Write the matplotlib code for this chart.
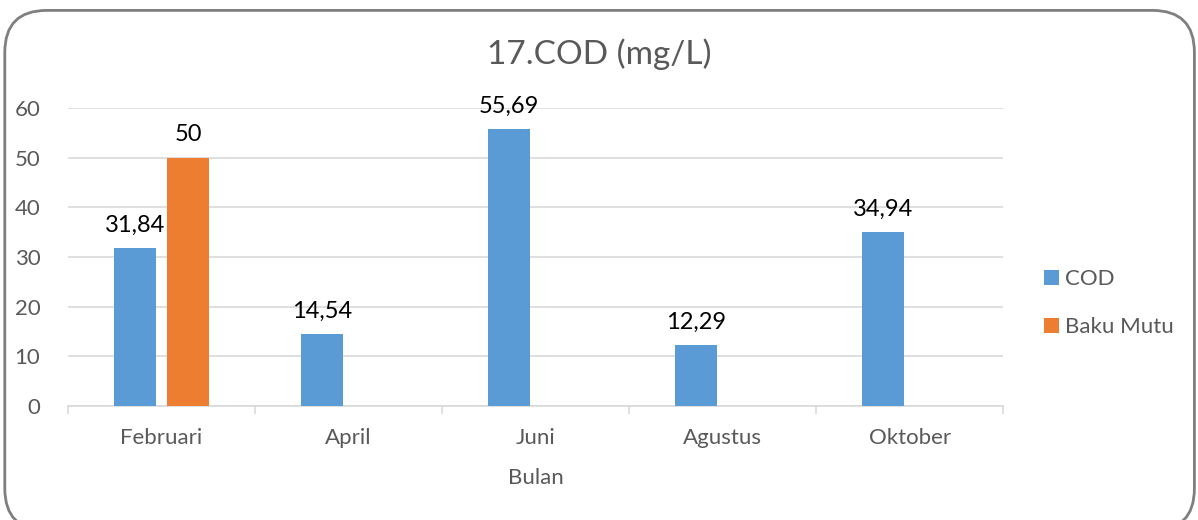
import numpy as np
from matplotlib import pyplot as plt
from matplotlib.patches import FancyBboxPatch
plt.rcParams['font.family'] = ['Lato', 'DejaVu Sans']

bulan = ['Februari', 'April', 'Juni', 'Agustus', 'Oktober']
cod = [31.84, 14.54, 55.69, 12.29, 34.94]
baku_mutu = [50, np.nan, np.nan, np.nan, np.nan]
cod_label = ['31,84', '14,54', '55,69', '12,29', '34,94']
baku_label = ['50', '', '', '', '']

fig = plt.figure(figsize=(11.98, 5.2), dpi=100)
ax = fig.add_axes([0.0568, 0.2192, 0.7805, 0.5731])

x = np.arange(len(bulan))
w = 0.225
off = 0.142
b1 = ax.bar(x - off, cod, w, color='#5B9BD5', label='COD', zorder=3)
b2 = ax.bar(x + off, baku_mutu, w, color='#ED7D31', label='Baku Mutu', zorder=3)

for r, t in zip(b1, cod_label):
    ax.text(r.get_x() + r.get_width() / 2, r.get_height() + 2.5, t,
            ha='center', va='bottom', fontsize=17, color='black')
for r, v, t in zip(b2, baku_mutu, baku_label):
    if not np.isnan(v):
        ax.text(r.get_x() + r.get_width() / 2, v + 2.5, t,
                ha='center', va='bottom', fontsize=17, color='black')

ax.set_xlim(-0.5, len(bulan) - 0.5)
ax.set_ylim(0, 60)
ax.set_yticks(range(0, 61, 10))
ax.set_xticks(x)
ax.set_xticklabels(bulan)
ax.set_xticks(np.arange(-0.5, len(bulan)), minor=True)
ax.tick_params(axis='x', which='major', length=0, pad=16, labelsize=16, labelcolor='#595959')
ax.tick_params(axis='x', which='minor', length=6, color='#D9D9D9', width=1.2)
ax.tick_params(axis='y', length=0, pad=20, labelsize=16, labelcolor='#595959')
ax.grid(axis='y', color='#D9D9D9', linewidth=1.2, zorder=0)
for s in ['top', 'right', 'left']:
    ax.spines[s].set_visible(False)
ax.spines['bottom'].set_color('#D9D9D9')
ax.spines['bottom'].set_linewidth(1.2)
ax.set_xlabel('Bulan', fontsize=16, color='#595959', labelpad=14)

fig.text(0.5, 0.895, '17.COD (mg/L)', ha='center', va='center', fontsize=24, color='#595959')

ax.legend(loc='center left', bbox_to_anchor=(1.022, 0.345), frameon=False,
          fontsize=16, labelcolor='#595959', handlelength=0.7, handleheight=0.7,
          handletextpad=0.25, labelspacing=1.25)

box = FancyBboxPatch((0.004, -0.02), 0.993, 1.0, boxstyle='round,pad=0,rounding_size=0.035',
                     transform=fig.transFigure, facecolor='none', edgecolor='#7F7F7F',
                     linewidth=2, mutation_aspect=1198 / 520)
fig.patches.append(box)

fig.savefig('out.png', dpi=100)
